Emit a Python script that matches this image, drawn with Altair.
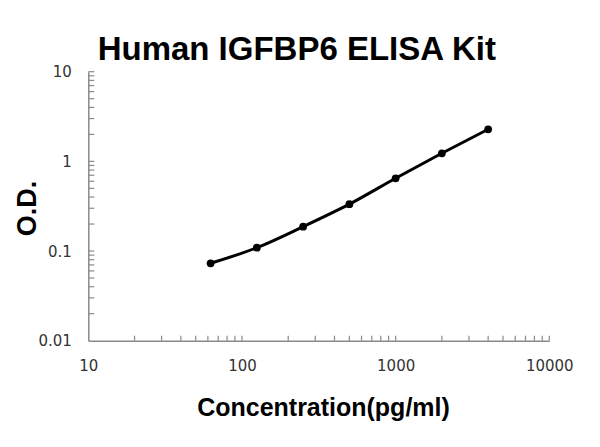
import altair as alt
import pandas as pd

# Data
conc = [62.5, 125, 250, 500, 1000, 2000, 4000]
od = [0.073, 0.109, 0.187, 0.333, 0.648, 1.23, 2.28]

x_major = [10, 100, 1000, 10000]
y_major = [0.01, 0.1, 1, 10]
mult = [1, 2, 3, 4, 5, 6, 7, 8, 9]

x_ticks = [d * m for d in [10, 100, 1000] for m in mult if d * m > 10] + [10000]
y_ticks = [d * m for d in [0.01, 0.1, 1] for m in mult if d * m > 0.01] + [10]

W, H = 461, 269
AXIS_GRAY = "#8a8a8a"
FONT = "Liberation Sans"
LABEL_FONT = "DejaVu Sans"

df = pd.DataFrame({"conc": conc, "od": od})
dfx = pd.DataFrame({"t": x_ticks})
dfy = pd.DataFrame({"v": y_ticks})

xscale = alt.Scale(type="log", domain=[10, 10000])
yscale = alt.Scale(type="log", domain=[0.01, 10])

xaxis = alt.Axis(
    values=x_major, format="~g", ticks=False, tickSize=0, grid=False,
    domainColor=AXIS_GRAY, domainWidth=1.5,
    labelFont=LABEL_FONT, labelFontSize=15, labelColor="#333333", labelPadding=18,
    labelFlush=False, labelOverlap=False,
    title="Concentration(pg/ml)", titleFont=FONT, titleFontSize=25, titleFontWeight="bold",
    titleColor="black", titleX=234.7, titleY=75.3, titleAlign="center", titleBaseline="alphabetic",
)
yaxis = alt.Axis(
    values=y_major, format="~g", ticks=False, tickSize=0, grid=False,
    domainColor=AXIS_GRAY, domainWidth=1.5,
    labelFont=LABEL_FONT, labelFontSize=15, labelColor="#333333", labelPadding=17,
    labelFlush=False, labelOverlap=False,
    title="O.D.", titleFont=FONT, titleFontSize=27, titleFontWeight="bold",
    titleColor="black", titleX=-61.3, titleY=136.3, titleAngle=270,
    titleAlign="center", titleBaseline="middle",
)

line = alt.Chart(df).mark_line(interpolate="monotone", color="black", strokeWidth=3).encode(
    x=alt.X("conc:Q", scale=xscale, axis=xaxis),
    y=alt.Y("od:Q", scale=yscale, axis=yaxis),
)
pts = alt.Chart(df).mark_circle(size=60, color="black", opacity=1).encode(
    x=alt.X("conc:Q", scale=xscale),
    y=alt.Y("od:Q", scale=yscale),
)
xt = alt.Chart(dfx).mark_rule(color=AXIS_GRAY, strokeWidth=1.2).encode(
    x=alt.X("t:Q", scale=xscale),
    y=alt.value(H),
    y2=alt.value(H - 5),
)
yt = alt.Chart(dfy).mark_rule(color=AXIS_GRAY, strokeWidth=1.2).encode(
    y=alt.Y("v:Q", scale=yscale),
    x=alt.value(0),
    x2=alt.value(6),
)

chart = alt.layer(xt, yt, line, pts).properties(
    width=W,
    height=H,
    autosize=alt.AutoSizeParams(type="none"),
    padding={"left": 80.3, "top": 63.7, "right": 40, "bottom": 90},
    title=alt.TitleParams(
        "Human IGFBP6 ELISA Kit", font=FONT, fontSize=33, fontWeight="bold",
        color="black", anchor="middle", frame="group", dx=-22, dy=40,
        baseline="alphabetic", offset=12,
    ),
).configure_view(strokeOpacity=0)

chart.save("out.html", embed_options={"renderer": "svg", "actions": False})
